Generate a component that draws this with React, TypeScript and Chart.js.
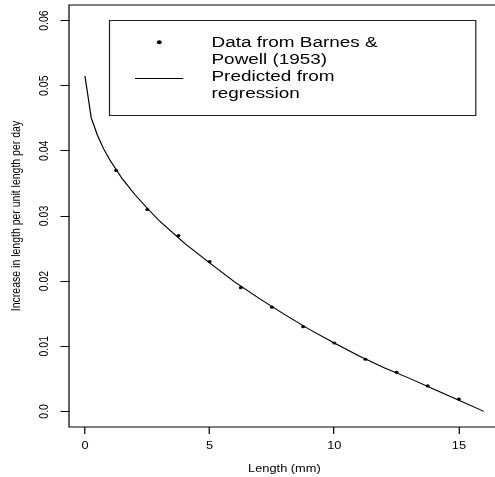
import { useEffect, useRef } from "react";
import { Chart, registerables } from "chart.js";

Chart.register(...registerables);

// Observed elongation rates (Barnes & Powell 1953)
const OBS_LENGTH = [1.25, 2.5, 3.75, 5, 6.25, 7.5, 8.75, 10, 11.25, 12.5, 13.75, 15];
const OBS_RATE = [0.037, 0.031, 0.027, 0.023, 0.019, 0.016, 0.013, 0.0105, 0.008, 0.006, 0.0039, 0.0019];

// Regression curve
const FIT_LENGTH = [0, 0.25, 0.5, 0.75, 1, 1.5, 2, 2.5, 3, 4, 5, 6, 7, 8, 9, 10, 11, 12, 13, 14, 15, 16];
const FIT_RATE = [
  0.0515, 0.0451, 0.0424, 0.0403, 0.0386, 0.0357, 0.0333, 0.0312, 0.0292, 0.0258, 0.0228,
  0.0199, 0.0173, 0.0149, 0.0126, 0.0105, 0.0085, 0.0067, 0.0051, 0.0034, 0.0017, 0,
];

const X_TICKS = [0, 5, 10, 15];
const X_TICK_LABELS = ["0", "5", "10", "15"];
const Y_TICKS = [0, 0.01, 0.02, 0.03, 0.04, 0.05, 0.06];
const Y_TICK_LABELS = ["0.0", "0.01", "0.02", "0.03", "0.04", "0.05", "0.06"];

const X_TITLE = "Length (mm)";
const Y_TITLE = "Increase in length per unit length per day";
const LEGEND_LINES = ["Data from Barnes &", "Powell (1953)", "Predicted from", "regression"];

// Axis limits (4% extension around 0..16 and 0..0.06)
const X_MIN = -0.64;
const X_MAX = 16.64;
const Y_MIN = -0.0024;
const Y_MAX = 0.0624;

// Drawing geometry: the whole figure is drawn with a horizontal stretch
const X_STRETCH = 1.22;
const CHART_W = 420;
const CHART_H = 477;
const PHYS_W = Math.ceil(CHART_W * X_STRETCH);
const PLOT_LEFT = 69 / X_STRETCH;
const PLOT_RIGHT = 499.8 / X_STRETCH;
const PLOT_TOP = 5;
const PLOT_BOTTOM = 427;

const FONT = '"Liberation Sans", Arial, Helvetica, sans-serif';
const AXIS_FONT = { family: FONT, size: 10.5 };

const stretchPlugin = {
  id: "stretch",
  beforeDraw(chart: any) {
    const ctx = chart.ctx as CanvasRenderingContext2D;
    ctx.save();
    ctx.setTransform(X_STRETCH, 0, 0, 1, 0, 0);
  },
  afterDraw(chart: any) {
    chart.ctx.restore();
  },
};

const framePlugin = {
  id: "frameAndKey",
  afterDatasetsDraw(chart: any) {
    const ctx = chart.ctx as CanvasRenderingContext2D;
    const a = chart.chartArea;
    ctx.save();
    ctx.strokeStyle = "#000";
    ctx.lineWidth = 1;
    ctx.strokeRect(a.left, a.top, a.right - a.left, a.bottom - a.top);

    // key box
    const kx0 = 109.5 / X_STRETCH;
    const kx1 = 475.8 / X_STRETCH;
    ctx.strokeStyle = "#222";
    ctx.strokeRect(kx0, 20.5, kx1 - kx0, 95);

    // key symbols
    ctx.fillStyle = "#000";
    ctx.beginPath();
    ctx.arc(159.3 / X_STRETCH, 42.3, 2, 0, Math.PI * 2);
    ctx.fill();
    ctx.beginPath();
    ctx.strokeStyle = "#000";
    ctx.moveTo(135 / X_STRETCH, 78.5);
    ctx.lineTo(183.3 / X_STRETCH, 78.5);
    ctx.stroke();

    // key text
    ctx.font = `15.5px ${FONT}`;
    ctx.textAlign = "left";
    ctx.textBaseline = "alphabetic";
    const tx = 211.5 / X_STRETCH;
    const baselines = [46.7, 63.9, 81.1, 98.3];
    LEGEND_LINES.forEach((t, i) => ctx.fillText(t, tx, baselines[i]));
    ctx.restore();
  },
};

export default function App() {
  const ref = useRef<HTMLCanvasElement>(null);

  useEffect(() => {
    const canvas = ref.current;
    if (!canvas) return;
    canvas.width = CHART_W;
    canvas.height = CHART_H;
    canvas.style.width = "";
    canvas.style.height = "";

    const chart = new Chart(canvas, {
      type: "scatter",
      data: {
        datasets: [
          {
            label: "Data from Barnes & Powell (1953)",
            data: OBS_LENGTH.map((x, i) => ({ x, y: OBS_RATE[i] })),
            showLine: false,
            pointRadius: 1.6,
            pointBackgroundColor: "#000",
            pointBorderWidth: 0,
          },
          {
            label: "Predicted from regression",
            data: FIT_LENGTH.map((x, i) => ({ x, y: FIT_RATE[i] })),
            showLine: true,
            pointRadius: 0,
            borderColor: "#000",
            borderWidth: 1,
            tension: 0,
            fill: false,
          },
        ],
      },
      options: {
        animation: false,
        responsive: false,
        events: [],
        devicePixelRatio: 1,
        layout: {
          padding: { left: 0, top: PLOT_TOP, right: CHART_W - PLOT_RIGHT, bottom: 0 },
        },
        plugins: {
          legend: { display: false },
          tooltip: { enabled: false },
          title: { display: false },
        },
        scales: {
          x: {
            type: "linear",
            min: X_MIN,
            max: X_MAX,
            afterBuildTicks: (s: any) => {
              s.ticks = X_TICKS.map((v) => ({ value: v }));
            },
            afterFit: (s: any) => {
              s.height = CHART_H - PLOT_BOTTOM;
              s.paddingLeft = 0;
              s.paddingRight = 0;
            },
            ticks: {
              callback: (_v: any, i: number) => X_TICK_LABELS[i],
              autoSkip: false,
              maxRotation: 0,
              minRotation: 0,
              padding: 5.5,
              color: "#000",
              font: AXIS_FONT,
            },
            grid: {
              display: true,
              drawOnChartArea: false,
              drawTicks: true,
              tickLength: 7,
              color: "#000",
              lineWidth: 1,
            },
            border: { display: false },
            title: {
              display: true,
              text: X_TITLE,
              color: "#000",
              font: AXIS_FONT,
              padding: { top: 0, bottom: 2 },
            },
          },
          y: {
            type: "linear",
            min: Y_MIN,
            max: Y_MAX,
            afterBuildTicks: (s: any) => {
              s.ticks = Y_TICKS.map((v) => ({ value: v }));
            },
            afterFit: (s: any) => {
              s.width = PLOT_LEFT;
              s.paddingTop = 0;
              s.paddingBottom = 0;
            },
            ticks: {
              callback: (_v: any, i: number) => Y_TICK_LABELS[i],
              autoSkip: false,
              minRotation: 90,
              maxRotation: 90,
              crossAlign: "center",
              padding: 2.5,
              color: "#000",
              font: AXIS_FONT,
            },
            grid: {
              display: true,
              drawOnChartArea: false,
              drawTicks: true,
              tickLength: 7,
              color: "#000",
              lineWidth: 1,
            },
            border: { display: false },
            title: {
              display: true,
              text: Y_TITLE,
              color: "#000",
              font: AXIS_FONT,
              padding: { top: 7, bottom: 0 },
            },
          },
        },
      },
      plugins: [framePlugin, stretchPlugin],
    } as any);

    // widen the backing store so the stretched drawing fits, then redraw
    canvas.width = PHYS_W;
    canvas.style.width = `${PHYS_W}px`;
    canvas.style.height = `${CHART_H}px`;
    chart.draw();

    return () => chart.destroy();
  }, []);

  return (
    <div
      style={{
        position: "fixed",
        left: 0,
        top: 0,
        width: "100vw",
        height: "100vh",
        overflow: "hidden",
        background: "#fff",
      }}
    >
      <canvas ref={ref} width={CHART_W} height={CHART_H} style={{ display: "block" }} />
    </div>
  );
}
